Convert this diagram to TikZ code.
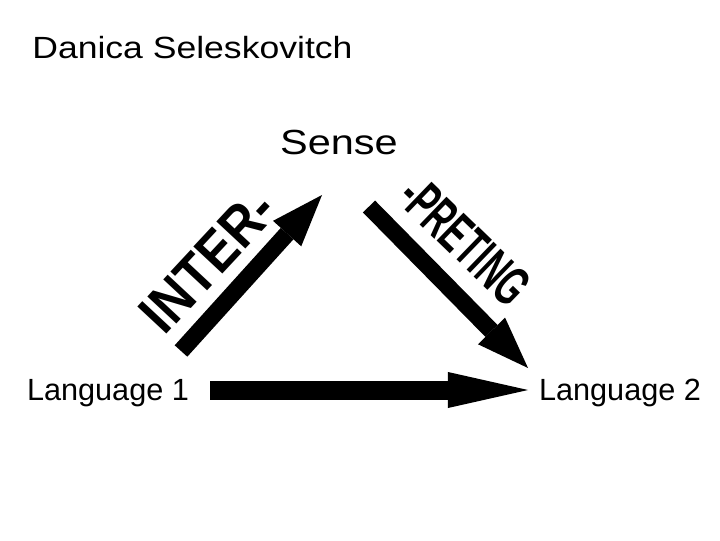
\documentclass[tikz,border=0pt]{standalone}
\usepackage{fontspec}
\setmainfont{Liberation Sans}
\usetikzlibrary{arrows.meta}

\begin{document}
\begin{tikzpicture}[x=0.025cm,y=0.025cm,
    fat/.style={line width=0.475cm,-{Triangle[length=2cm,width=0.9cm,line width=0pt]}},
    slim/.style={line width=0.425cm,-{Triangle[length=1.3cm,width=0.95cm,line width=0pt]}},
    lbl/.style={inner sep=0pt,anchor=base,font=\fontsize{21.8}{24}\selectfont}]
      \useasboundingbox (0,0) rectangle (720,540);
      \node[lbl,anchor=base west,xscale=1.16] (author) at (32,481) {Danica Seleskovitch};
      \node[lbl,xscale=1.19,font=\fontsize{24.8}{28}\selectfont] (sense) at (339,385) {Sense};
      \node[lbl] (lang1) at (108,140) {Language 1};
      \node[lbl] (lang2) at (620,140) {Language 2};
      % arrow ends
      \coordinate (a1) at (210,150);
      \coordinate (a2) at (528,150);
      \coordinate (b1) at (181,189);
      \coordinate (b2) at (322,345);
      \coordinate (c1) at (369,333.5);
      \coordinate (c2) at (528,172);
      \draw[fat] (a1) -- (a2);
      \draw[slim] (b1) -- (b2);
      \draw[slim] (c1) -- (c2);
      \node[rotate=47,xscale=0.88,font=\bfseries\fontsize{41}{44}\selectfont,inner sep=0pt] (inter) at (208,279) {INTER-};
      \node[rotate=-44,xscale=0.58,font=\bfseries\fontsize{40}{44}\selectfont,inner sep=0pt] (preting) at (465,299) {-PRETING};
\end{tikzpicture}
\end{document}
